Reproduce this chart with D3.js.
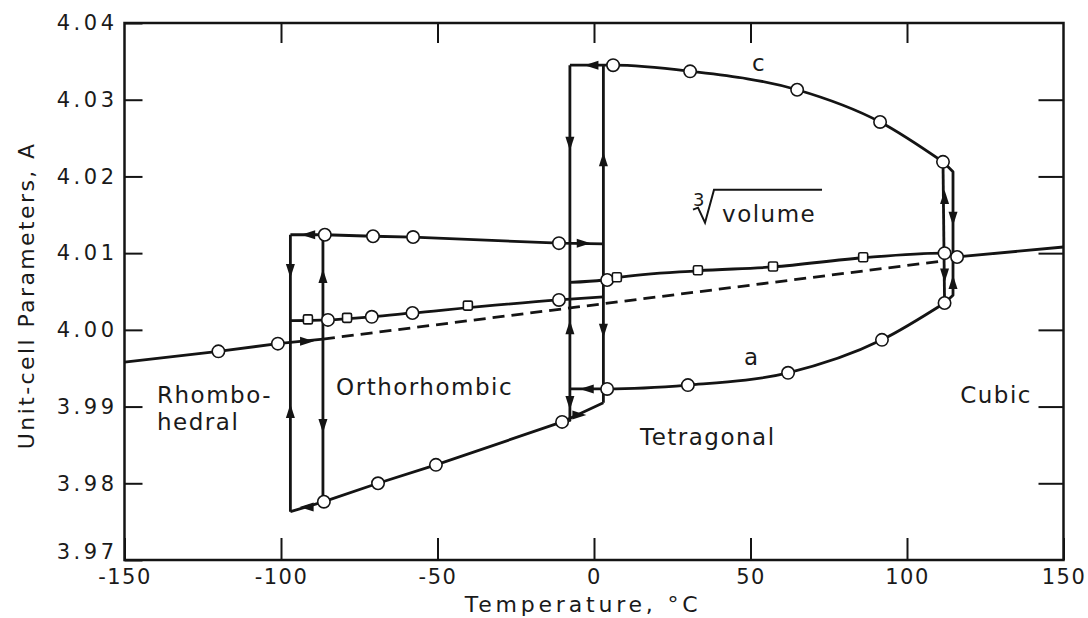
<!DOCTYPE html>
<html>
<head>
<meta charset="utf-8">
<script src="https://cdn.jsdelivr.net/npm/d3@7"></script>
<style>
  body { margin: 0; background: #fff; }
  svg { display: block; }
  text { font-family: "DejaVu Sans", sans-serif; fill: #1a1a1a; }
  .lbl { font-size: 23px; letter-spacing: 1.5px; }
  .tick text { font-size: 21px; letter-spacing: 3.5px; }
  .xb .tick text { letter-spacing: 1.5px; }
</style>
</head>
<body>
<svg width="1088" height="618"></svg>
<script>
// tick values
var tempTicks = [-150, -100, -50, 0, 50, 100, 150];
var paramTicks = [3.97, 3.98, 3.99, 4.00, 4.01, 4.02, 4.03, 4.04];

// rhombohedral / cubic straight line (T, A)
var rhomboLine = [[-150, 3.9958], [-120, 3.9972], [-101, 3.9982], [-86.6, 3.9988]];
var rhomboPts = [[-120, 3.9972], [-101, 3.9982]];
var extrapLine = [[-86.6, 3.9988], [110, 4.0089]];
var cubicLine = [[116, 4.0095], [150, 4.0108]];
var cubicPts = [[116, 4.0095]];

// orthorhombic parameters
var orthoTop = [[-97, 4.0124], [-86, 4.0124], [-70.6, 4.0122], [-57.8, 4.0121], [-11.2, 4.0113], [3, 4.0112]];
var orthoTopPts = [[-86, 4.0124], [-70.6, 4.0122], [-57.8, 4.0121], [-11.2, 4.0113]];
var orthoMid = [[-97, 4.0012], [-85, 4.0013], [-71, 4.0017], [-58, 4.0022], [-11.2, 4.0039], [3, 4.0043]];
var orthoMidPts = [[-85, 4.0013], [-71, 4.0017], [-58, 4.0022], [-11.2, 4.0039]];
var orthoBot = [[-97, 3.9763], [-86.3, 3.9776], [-69, 3.9800], [-50.5, 3.9824], [-10.2, 3.9880], [3, 3.9905]];
var orthoBotPts = [[-86.3, 3.9776], [-69, 3.9800], [-50.5, 3.9824], [-10.2, 3.9880]];

// tetragonal parameters
var tetraC = [[-7.7, 4.0345], [6.1, 4.0345], [30.7, 4.0337], [64.9, 4.0313], [91.4, 4.0271], [111.5, 4.0219]];
var tetraCPts = [[6.1, 4.0345], [30.7, 4.0337], [64.9, 4.0313], [91.4, 4.0271], [111.5, 4.0219]];
var tetraA = [[-7.7, 3.9923], [4.2, 3.9923], [30, 3.9928], [62, 3.9944], [92, 3.9987], [112, 4.0035]];
var tetraAPts = [[4.2, 3.9923], [30, 3.9928], [62, 3.9944], [92, 3.9987], [112, 4.0035]];

// cube root of volume
var volLine = [[-7.7, 4.0062], [3, 4.0065], [7.3, 4.0068], [33.2, 4.0077], [57.2, 4.0082], [86, 4.0094], [112, 4.0100], [116, 4.0095]];
var volSquares = [[-91.4, 4.0013], [-78.9, 4.0015], [-40.3, 4.0031], [7.3, 4.0068], [33.2, 4.0077], [57.2, 4.0082], [86, 4.0094]];
var volCircles = [[4.2, 4.0065], [112, 4.0100]];

// transitions: vertical jumps
var jumps = [
  [[-97, 4.0124], [-97, 3.9763]],
  [[-86.6, 4.0124], [-86.6, 3.9776]],
  [[-7.7, 4.0345], [-7.7, 3.9882], [-10.2, 3.9880]],
  [[3, 4.0345], [3, 3.9905]],
  [[111.5, 4.0219], [112, 4.0035]],
  [[111.5, 4.0219], [114.7, 4.0206], [114.7, 4.0045], [112, 4.0035]]
];

// direction arrows [T, A, direction]
var arrows = [
  [-97, 4.0078, "down"], [-97, 3.9893, "up"],
  [-86.6, 4.0069, "up"], [-86.6, 3.9876, "down"],
  [-91, 4.0124, "left"], [-91.5, 3.9769, "left"], [-92, 3.9985, "right"],
  [-7.7, 4.0244, "down"], [-7.7, 4.0002, "up"], [-7.7, 3.9906, "down"],
  [3, 4.0221, "up"], [3, 4.0000, "down"],
  [-0.5, 4.0345, "left"], [-3.6, 4.0113, "right"], [-2, 3.9923, "left"], [-5, 3.9889, "right"],
  [112, 4.0172, "up"], [112, 4.0072, "down"],
  [114.7, 4.0146, "down"], [114.7, 4.0061, "up"]
];

// region labels [text, T, A]
var labels = [
  ["Rhombo-", -139.6, 3.9905],
  ["hedral", -139.6, 3.9869],
  ["Orthorhombic", -82.4, 3.9915],
  ["Tetragonal", 14.7, 3.9850],
  ["Cubic", 117, 3.9905],
  ["c", 50.5, 4.0337],
  ["a", 47.9, 3.9954],
  ["volume", 40.9, 4.0141]
];

var margin = {top: 23, right: 24.5, bottom: 58, left: 124.5},
    width = 1088 - margin.left - margin.right,
    height = 618 - margin.top - margin.bottom;

var xScale = d3.scaleLinear().domain([-150, 150]).range([0, width]);
var yScale = d3.scaleLinear().domain([3.97, 4.04]).range([height, 0]);

var svg = d3.select("svg")
  .append("g")
    .attr("transform", "translate(" + margin.left + "," + margin.top + ")");

var ink = "#141414";

// axes, ticks pointing inward
var xAxisB = d3.axisBottom(xScale).tickValues(tempTicks).tickSize(-22).tickPadding(9)
    .tickFormat(function(d) { return d < 0 ? "-" + Math.abs(d) : d; });
var xAxisT = d3.axisTop(xScale).tickValues(tempTicks.slice(1, -1)).tickSize(-20).tickFormat("");
var yAxisL = d3.axisLeft(yScale).tickValues(paramTicks).tickSize(-18).tickPadding(7).tickFormat(d3.format(".2f"));
var yAxisR = d3.axisRight(yScale).tickValues(paramTicks.slice(1, -1)).tickSize(-25).tickFormat("");

function styleAxis(g) {
  g.select(".domain").remove();
  g.selectAll(".tick line").attr("stroke", ink).attr("stroke-width", 2);
  g.selectAll(".tick text").attr("fill", ink);
}

svg.append("g").attr("class", "xb").attr("transform", "translate(0," + height + ")").call(xAxisB).call(styleAxis);
svg.append("g").call(xAxisT).call(styleAxis);
svg.append("g").call(yAxisL).call(styleAxis)
  .selectAll(".tick text")
    .attr("dy", function(d) { return d === 3.97 ? "-0.05em" : "0.32em"; });
svg.append("g").attr("transform", "translate(" + width + ",0)").call(yAxisR).call(styleAxis);

// frame
svg.append("rect")
  .attr("x", 0).attr("y", 0).attr("width", width).attr("height", height)
  .attr("fill", "none").attr("stroke", ink).attr("stroke-width", 2.5);

// axis titles
svg.append("text")
  .attr("class", "lbl")
  .attr("x", xScale(-3.5)).attr("y", height + 52)
  .attr("text-anchor", "middle")
  .style("font-size", "22px").style("letter-spacing", "3.8px")
  .text("Temperature, \u00B0C");

svg.append("text")
  .attr("class", "lbl")
  .attr("transform", "translate(" + (34 - margin.left) + "," + yScale(4.0045) + ") rotate(-90)")
  .attr("text-anchor", "middle")
  .style("font-size", "22px").style("letter-spacing", "2.4px")
  .text("Unit-cell Parameters, A");

var line = d3.line().x(function(d) { return xScale(d[0]); }).y(function(d) { return yScale(d[1]); });
var smooth = d3.line().curve(d3.curveMonotoneX)
  .x(function(d) { return xScale(d[0]); }).y(function(d) { return yScale(d[1]); });

function drawPath(data, gen, dash) {
  svg.append("path")
    .datum(data)
    .attr("d", gen)
    .attr("fill", "none")
    .attr("stroke", ink)
    .attr("stroke-width", 2.8)
    .attr("stroke-linejoin", "round")
    .attr("stroke-dasharray", dash || null);
}

drawPath(rhomboLine, line);
drawPath(extrapLine, line, "12,7");
drawPath(cubicLine, line);
drawPath(orthoTop, line);
drawPath(orthoMid, smooth);
drawPath(orthoBot, line);
drawPath(tetraC, smooth);
drawPath(tetraA, smooth);
drawPath(volLine, smooth);
jumps.forEach(function(j) { drawPath(j, line); });

// arrow heads
var rot = {up: 0, right: 90, down: 180, left: 270};
svg.selectAll(".arrow")
  .data(arrows)
  .enter().append("path")
    .attr("class", "arrow")
    .attr("d", "M0,-8L4.5,6L-4.5,6Z")
    .attr("fill", ink)
    .attr("transform", function(d) {
      return "translate(" + xScale(d[0]) + "," + yScale(d[1]) + ") rotate(" + rot[d[2]] + ")";
    });

// markers
var circleData = [].concat(rhomboPts, cubicPts, orthoTopPts, orthoMidPts, orthoBotPts, tetraCPts, tetraAPts, volCircles);
svg.selectAll(".dot")
  .data(circleData)
  .enter().append("circle")
    .attr("class", "dot")
    .attr("cx", function(d) { return xScale(d[0]); })
    .attr("cy", function(d) { return yScale(d[1]); })
    .attr("r", 6.2)
    .attr("fill", "#fff")
    .attr("stroke", ink)
    .attr("stroke-width", 1.6);

svg.selectAll(".sq")
  .data(volSquares)
  .enter().append("rect")
    .attr("class", "sq")
    .attr("x", function(d) { return xScale(d[0]) - 4.5; })
    .attr("y", function(d) { return yScale(d[1]) - 5; })
    .attr("width", 9).attr("height", 9)
    .attr("rx", 1.5)
    .attr("fill", "#fff")
    .attr("stroke", ink)
    .attr("stroke-width", 1.6);

// labels
svg.selectAll(".region")
  .data(labels)
  .enter().append("text")
    .attr("class", "lbl region")
    .attr("x", function(d) { return xScale(d[1]); })
    .attr("y", function(d) { return yScale(d[2]); })
    .text(function(d) { return d[0]; });

// cube-root sign for "volume"
var rx = xScale(40.9), ry = yScale(4.0141);
svg.append("path")
  .attr("d", "M" + (rx - 29) + "," + (ry - 12) + "L" + (rx - 24) + "," + (ry - 14) +
             "L" + (rx - 17) + "," + (ry + 1) + "L" + (rx - 8) + "," + (ry - 32) + "L" + (rx + 100) + "," + (ry - 32))
  .attr("fill", "none").attr("stroke", ink).attr("stroke-width", 2);
svg.append("text")
  .attr("x", rx - 29).attr("y", ry - 16)
  .style("font-size", "18px")
  .text("3");
</script>
</body>
</html>
